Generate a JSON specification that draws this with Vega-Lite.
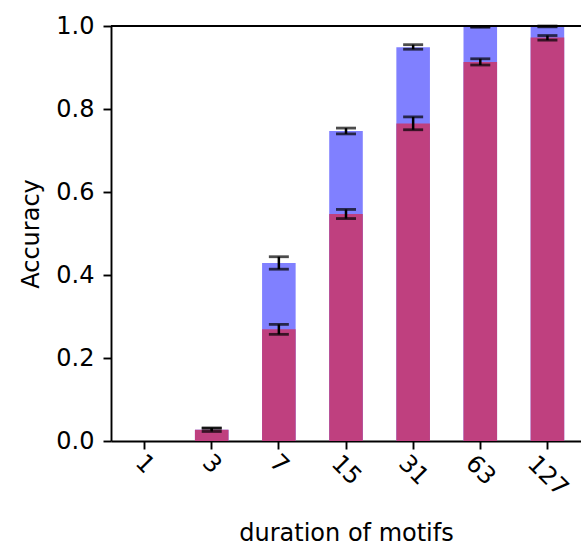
{
  "$schema": "https://vega.github.io/schema/vega-lite/v6.json",
  "width": 470,
  "height": 415,
  "autosize": {"type": "none"},
  "padding": {"left": 111, "top": 26, "right": 0, "bottom": 106},
  "background": "white",
  "config": {
    "view": {"stroke": null},
    "font": "DejaVu Sans",
    "axis": {
      "labelFont": "DejaVu Sans",
      "titleFont": "DejaVu Sans",
      "labelFontSize": 24,
      "titleFontSize": 24,
      "labelColor": "black",
      "titleColor": "black",
      "titleFontWeight": "normal",
      "domainColor": "black",
      "domainWidth": 1.9,
      "tickColor": "black",
      "tickWidth": 1.9,
      "tickSize": 8,
      "grid": false
    }
  },
  "data": {
    "values": [
      {"d": "1", "blue": 0, "blo": null, "bhi": null, "red": 0, "rlo": null, "rhi": null},
      {"d": "3", "blue": 0.027, "blo": 0.023, "bhi": 0.031, "red": 0.027, "rlo": 0.023, "rhi": 0.031},
      {"d": "7", "blue": 0.429, "blo": 0.414, "bhi": 0.444, "red": 0.269, "rlo": 0.257, "rhi": 0.281},
      {"d": "15", "blue": 0.747, "blo": 0.740, "bhi": 0.754, "red": 0.547, "rlo": 0.536, "rhi": 0.558},
      {"d": "31", "blue": 0.949, "blo": 0.944, "bhi": 0.955, "red": 0.765, "rlo": 0.750, "rhi": 0.781},
      {"d": "63", "blue": 0.998, "blo": 0.997, "bhi": 0.999, "red": 0.913, "rlo": 0.906, "rhi": 0.921},
      {"d": "127", "blue": 0.999, "blo": 0.998, "bhi": 1.0, "red": 0.972, "rlo": 0.966, "rhi": 0.977}
    ]
  },
  "layer": [
    {
      "mark": {"type": "bar", "color": "#8080ff"},
      "encoding": {
        "x": {
          "field": "d",
          "type": "ordinal",
          "sort": null,
          "scale": {"paddingInner": 0.5, "paddingOuter": 0.25},
          "axis": {
            "title": "duration of motifs",
            "labelAngle": 45,
            "labelAlign": "center",
            "labelBaseline": "middle",
            "labelPadding": {
              "condition": [
                {"test": "length(datum.label) == 1", "value": 15},
                {"test": "length(datum.label) == 2", "value": 21}
              ],
              "value": 27
            },
            "titlePadding": 21
          }
        },
        "y": {
          "field": "blue",
          "type": "quantitative",
          "scale": {"domain": [0, 1], "nice": false},
          "axis": {
            "title": "Accuracy",
            "values": [0, 0.2, 0.4, 0.6, 0.8, 1.0],
            "format": ".1f",
            "labelPadding": 9,
            "titlePadding": 12
          }
        }
      }
    },
    {
      "mark": {"type": "rule", "color": "black", "strokeWidth": 2.5},
      "encoding": {
        "x": {"field": "d", "type": "ordinal", "sort": null},
        "y": {"field": "blo", "type": "quantitative"},
        "y2": {"field": "bhi"}
      }
    },
    {
      "mark": {"type": "tick", "color": "black", "size": 20, "thickness": 2.8},
      "encoding": {
        "x": {"field": "d", "type": "ordinal", "sort": null},
        "y": {"field": "blo", "type": "quantitative"}
      }
    },
    {
      "mark": {"type": "tick", "color": "black", "size": 20, "thickness": 2.8},
      "encoding": {
        "x": {"field": "d", "type": "ordinal", "sort": null},
        "y": {"field": "bhi", "type": "quantitative"}
      }
    },
    {
      "mark": {"type": "bar", "color": "#bf407f"},
      "encoding": {
        "x": {"field": "d", "type": "ordinal", "sort": null},
        "y": {"field": "red", "type": "quantitative"}
      }
    },
    {
      "mark": {"type": "rule", "color": "black", "strokeWidth": 2.5},
      "encoding": {
        "x": {"field": "d", "type": "ordinal", "sort": null},
        "y": {"field": "rlo", "type": "quantitative"},
        "y2": {"field": "rhi"}
      }
    },
    {
      "mark": {"type": "tick", "color": "black", "size": 20, "thickness": 2.8},
      "encoding": {
        "x": {"field": "d", "type": "ordinal", "sort": null},
        "y": {"field": "rlo", "type": "quantitative"}
      }
    },
    {
      "mark": {"type": "tick", "color": "black", "size": 20, "thickness": 2.8},
      "encoding": {
        "x": {"field": "d", "type": "ordinal", "sort": null},
        "y": {"field": "rhi", "type": "quantitative"}
      }
    },
    {
      "mark": {"type": "rule", "color": "black", "strokeWidth": 1.9},
      "encoding": {"y": {"datum": 1}}
    }
  ]
}
